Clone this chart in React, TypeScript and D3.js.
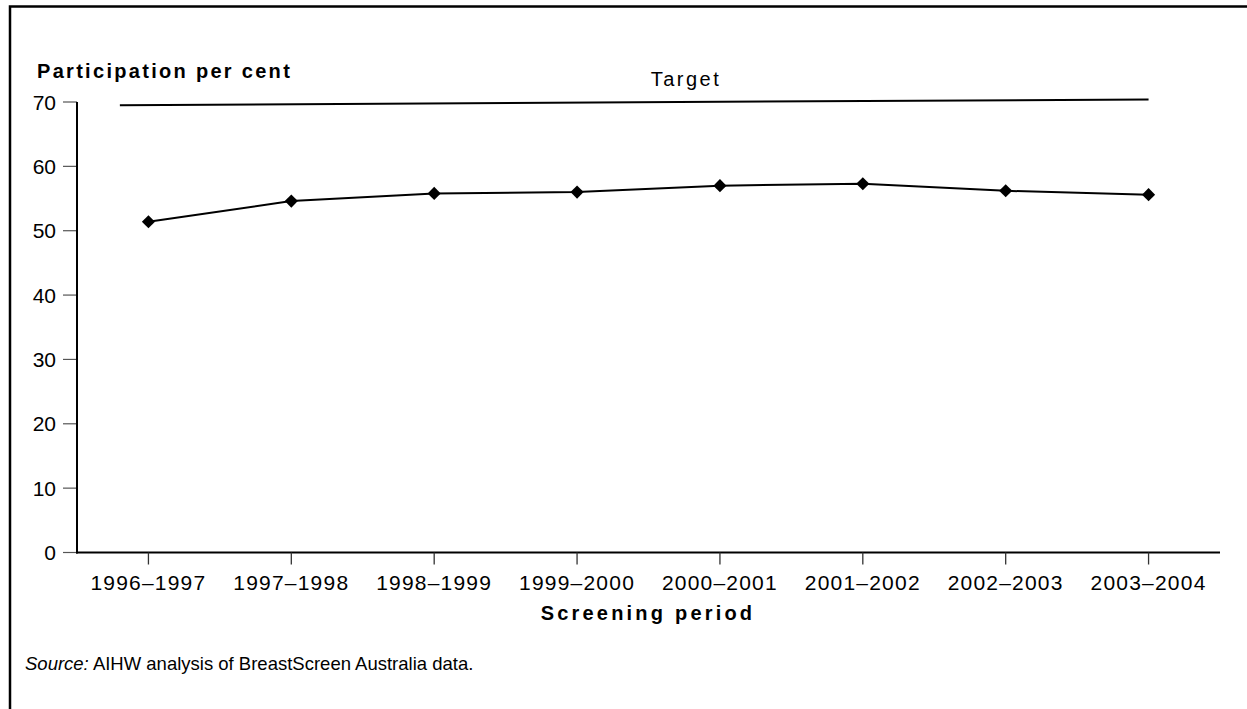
import React from "react";
import * as d3 from "d3";

const categories = ["1996–1997", "1997–1998", "1998–1999", "1999–2000", "2000–2001", "2001–2002", "2002–2003", "2003–2004"];
const participation = [51.4, 54.6, 55.8, 56.0, 57.0, 57.3, 56.2, 55.6];
const yTicks = [0, 10, 20, 30, 40, 50, 60, 70];
const targetValues = [69.5, 70.4]; // target line start and end (drawn slightly tilted)
const targetLabel = "Target";
const yTitle = "Participation per cent";
const xTitle = "Screening period";

const W = 1247;
const H = 709;
const FONT = "'Liberation Sans', Arial, Helvetica, sans-serif";

export default function App() {
  const x = d3.scalePoint<string>().domain(categories).range([77, 1220]).padding(0.5);
  const y = d3.scaleLinear().domain([0, 70]).range([552.5, 102]);
  const step = x.step();

  const line = d3
    .line<number>()
    .x((_, i) => x(categories[i]) as number)
    .y((d) => y(d));

  const diamond = d3.symbol().type(d3.symbolSquare).size(86)();

  const tx0 = (x(categories[0]) as number) - step * 0.2;
  const tx1 = x(categories[categories.length - 1]) as number;

  return (
    <svg
      width={W}
      height={H}
      style={{ position: "fixed", left: 0, top: 0, display: "block", background: "#fff" }}
      fontFamily={FONT}
    >
      <rect x={0} y={0} width={W} height={H} fill="#fff" />
      {/* frame */}
      <rect x={10} y={6.5} width={1400} height={900} fill="none" stroke="#000" strokeWidth={2.5} />

      {/* y axis title */}
      <text x={37} y={78} fontSize={20} fontWeight="bold" letterSpacing={2.3} fill="#000">
        {yTitle}
      </text>

      {/* y ticks */}
      {yTicks.map((t) => (
        <g key={t}>
          <line x1={63} x2={77} y1={y(t)} y2={y(t)} stroke="#555" strokeWidth={1.2} />
          <text x={56} y={y(t)} dy="0.36em" textAnchor="end" fontSize={21} fill="#000">
            {t}
          </text>
        </g>
      ))}

      {/* axes */}
      <line x1={77} x2={77} y1={y(70)} y2={y(0) + 1} stroke="#000" strokeWidth={2} />
      <line x1={76} x2={1220} y1={y(0)} y2={y(0)} stroke="#000" strokeWidth={2} />

      {/* x ticks */}
      {categories.map((c) => (
        <g key={c}>
          <line x1={x(c)} x2={x(c)} y1={y(0)} y2={y(0) + 12} stroke="#333" strokeWidth={1.3} />
          <text x={x(c)} y={590} textAnchor="middle" fontSize={21} letterSpacing={1.2} fill="#000">
            {c}
          </text>
        </g>
      ))}

      {/* x axis title */}
      <text x={648} y={620} textAnchor="middle" fontSize={20} fontWeight="bold" letterSpacing={3.2} fill="#000">
        {xTitle}
      </text>

      {/* target line */}
      <line x1={tx0} x2={tx1} y1={y(targetValues[0])} y2={y(targetValues[1])} stroke="#000" strokeWidth={2} />
      <text x={686} y={86} textAnchor="middle" fontSize={20} letterSpacing={2.5} fill="#000">
        {targetLabel}
      </text>

      {/* data line */}
      <path d={line(participation) || ""} fill="none" stroke="#000" strokeWidth={2} />
      {participation.map((v, i) => (
        <path
          key={i}
          d={diamond || ""}
          transform={`translate(${x(categories[i])},${y(v)}) rotate(45)`}
          fill="#000"
        />
      ))}

      {/* source */}
      <text x={25} y={670} fontSize={18.5} fill="#000">
        <tspan fontStyle="italic">Source:</tspan>
        <tspan> AIHW analysis of BreastScreen Australia data.</tspan>
      </text>
    </svg>
  );
}
